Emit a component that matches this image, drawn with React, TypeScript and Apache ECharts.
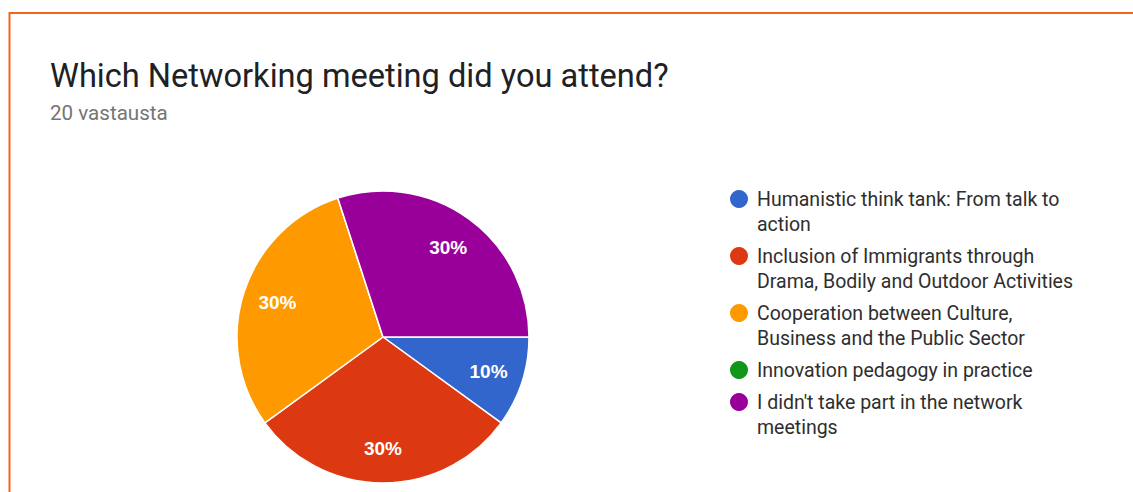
import React, { useEffect, useRef } from "react";
import * as echarts from "echarts";

const titleText = "Which Networking meeting did you attend?";
const subtitleText = "20 vastausta";
const categories = [
  "Humanistic think tank: From talk to action",
  "Inclusion of Immigrants through Drama, Bodily and Outdoor Activities",
  "Cooperation between Culture, Business and the Public Sector",
  "Innovation pedagogy in practice",
  "I didn't take part in the network meetings",
];
// legend text as wrapped in the reference
const legendLabels = [
  "Humanistic think tank: From talk to\naction",
  "Inclusion of Immigrants through\nDrama, Bodily and Outdoor Activities",
  "Cooperation between Culture,\nBusiness and the Public Sector",
  "Innovation pedagogy in practice",
  "I didn't take part in the network\nmeetings",
];
const values = [2, 6, 6, 0, 6];
const colors = ["#3366cc", "#dc3912", "#ff9900", "#109618", "#990099"];

const CHART_FONT = "Roboto, Arial, sans-serif";
const LABEL_FONT = "Arial, 'Liberation Sans', sans-serif";
const TITLE_FONT = "Roboto, 'Noto Sans', sans-serif";

export default function App() {
  const ref = useRef<HTMLDivElement>(null);

  useEffect(() => {
    if (!ref.current) return;
    const chart = echarts.init(ref.current, undefined, { renderer: "svg" });

    const cx = 383;
    const cy = 337;
    const r = 146;

    const data = categories.map((name, i) => ({
      name,
      value: values[i],
      itemStyle: { color: colors[i] },
    }));

    // Legend built as graphic elements (first line aligned with icon)
    const legendX = 739;
    const legendTop = 199;
    const lineH = 25;
    const itemGap = 7;
    const legendChildren: any[] = [];
    let y = legendTop;
    legendLabels.forEach((label, i) => {
      legendChildren.push({
        type: "circle",
        shape: { cx: legendX, cy: y, r: 9 },
        style: { fill: colors[i] },
      });
      legendChildren.push({
        type: "text",
        x: legendX + 18,
        y: y - lineH / 2,
        style: {
          text: label,
          font: `19.5px ${CHART_FONT}`,
          lineHeight: lineH,
          fill: "#2e2e2e",
          verticalAlign: "top",
          align: "left",
        },
      });
      y += label.split("\n").length * lineH + itemGap;
    });

    chart.setOption({
      animation: false,
      backgroundColor: "#ffffff",
      graphic: [
        {
          type: "rect",
          shape: { x: 9.5, y: 13, width: 1200, height: 600 },
          style: { fill: "none", stroke: "#f5641a", lineWidth: 2 },
          z: 100,
        },
        {
          type: "text",
          x: 50,
          y: 76,
          style: {
            text: titleText,
            font: `32.6px ${TITLE_FONT}`,
            fill: "#202124",
            verticalAlign: "middle",
          },
        },
        {
          type: "text",
          x: 50,
          y: 113,
          style: {
            text: subtitleText,
            font: `20.6px ${TITLE_FONT}`,
            fill: "#757575",
            verticalAlign: "middle",
          },
        },
        { type: "group", children: legendChildren },
      ],
      series: [
        {
          type: "pie",
          center: [cx, cy],
          radius: [0, r],
          startAngle: 0,
          clockwise: true,
          avoidLabelOverlap: false,
          data,
          label: { show: false },
          labelLine: { show: false },
          itemStyle: { borderColor: "#ffffff", borderWidth: 1.5 },
          emphasis: { disabled: true },
        },
        {
          type: "pie",
          center: [cx, cy],
          radius: [70, r],
          startAngle: 0,
          clockwise: true,
          silent: true,
          avoidLabelOverlap: false,
          data: categories.map((name, i) => ({ name, value: values[i] })),
          itemStyle: { color: "rgba(0,0,0,0)", borderWidth: 0 },
          label: {
            show: true,
            position: "inside",
            formatter: (p: any) => (p.value > 0 ? `${Math.round(p.percent)}%` : ""),
            color: "#ffffff",
            fontWeight: "bold",
            fontSize: 19,
            fontFamily: LABEL_FONT,
          },
          labelLine: { show: false },
          emphasis: { disabled: true },
        },
      ],
    });

    return () => chart.dispose();
  }, []);

  return (
    <div
      ref={ref}
      style={{ position: "fixed", left: 0, top: 0, width: 1133, height: 492, background: "#fff" }}
    />
  );
}
